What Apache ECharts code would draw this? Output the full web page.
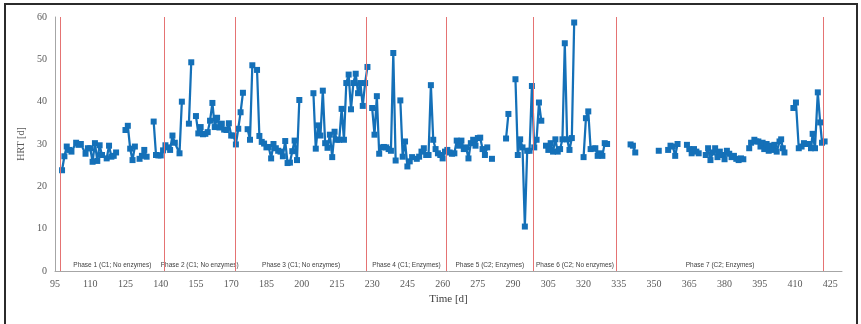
<!DOCTYPE html>
<html>
<head>
<meta charset="utf-8">
<script src="https://cdn.jsdelivr.net/npm/echarts@6/dist/echarts.min.js"></script>
<style>
  html, body { margin: 0; padding: 0; background: #fff; }
  #wrap { position: relative; width: 861px; height: 324px; overflow: hidden; }
  #chart { width: 861px; height: 324px; }
  #frame { position: absolute; left: 4px; top: 3px; width: 850px; height: 330px; border: 2px solid #2b2b2b; pointer-events: none; }
</style>
</head>
<body>
<div id="wrap">
  <div id="chart"></div>
  <div id="frame"></div>
</div>
<script>
// time [d]; a null HRT value marks a gap in the record
const days = [
  98, 99, 100, 101, 102, 104, 105, 106, 108, 109, 110, 111, 112, 113, 114, 115, 117, 118, 119, 120, 121, 122,
  125, 126, 127, 128, 129, 130, 131, 132, 133, 134, 135,
  137, 138, 139, 140, 141, 142, 143, 144, 145, 146, 148, 149, 150,
  152, 153, 154,
  155, 156, 157, 158, 159, 160, 161, 162, 163, 164, 165, 166, 167, 168, 169, 170, 171, 172, 173, 174, 175, 176,
  177, 178, 179, 180,
  181, 182, 183, 184, 185, 186, 187, 188, 189, 190, 191, 192, 193, 194, 195, 196, 197, 198, 199, 200,
  205, 206, 207, 208, 209, 210, 211, 212, 213, 214, 215, 216, 217, 218, 219, 220, 221, 222, 223, 224, 225, 226, 227, 228, 229,
  230, 231, 232, 233, 234, 235, 236, 237, 238, 239, 240, 241,
  242, 243, 244, 245, 246, 247, 248,
  249, 250, 251, 252, 253, 254, 255, 256, 257, 258, 259, 260, 261, 262, 263, 264, 265, 266, 267, 268, 269, 270,
  271, 272, 273, 274, 275, 276, 277, 278, 279, 280,
  281, 282,
  287, 288, 289,
  291, 292, 293, 294, 295, 296, 297, 298, 299, 300, 301, 302, 303,
  304, 305, 306, 307, 308, 309, 310, 311, 312, 313, 314, 315, 316, 317,
  320, 321, 322, 323, 324, 325, 326, 327, 328, 329, 330, 331,
  340, 341, 342, 343,
  352, 353,
  356, 357, 358, 359, 360, 362,
  364, 365, 366, 367, 368, 369, 370,
  372, 373, 374, 375, 376, 377, 378, 379, 380, 381, 382, 383, 384, 385, 386, 387, 388, 389,
  390.5, 391.3, 392.7, 393.4, 394.4, 395.3, 396.2, 396.9, 397.9, 398.8, 399.5, 400.5, 401.2, 402.2, 403.4, 404.1, 404.8, 405.5, 407,
  409.3, 410.4, 411.6, 412.8, 413.8, 415.1, 416.1, 416.8, 417.5, 418.5, 419.7, 420.7, 421.5, 422.6
];
const hrt = [
  23.8, 27.1, 29.4, 28.6, 28.2, 30.3, 29.8, 30.0, 27.7, 29.0, 29.0, 25.8, 30.2, 26.0, 29.7, 27.4, 26.6, 29.6, 27.0, 27.2, 28.0, null,
  33.3, 34.3, 28.9, 26.2, 29.4, null, 26.5, 27.2, 28.6, 27.0, null,
  35.3, 27.4, 27.3, 27.3, 28.5, 29.7, 29.2, 28.6, 32.0, 30.3, 27.8, 40.0, null,
  34.8, 49.3, null,
  36.6, 32.5, 34.0, 32.3, 32.4, 32.8, 35.5, 39.7, 34.0, 36.2, 33.9, 34.8, 33.4, 33.3, 34.9, 32.0, 32.0, 29.9, 33.6, 37.5, 42.1, null,
  33.5, 31.0, 48.6, null,
  47.5, 31.9, 30.5, 30.1, 29.2, 29.3, 26.6, 30.0, 29.0, 28.4, 28.2, 27.1, 30.7, 25.5, 25.6, 28.3, 30.8, 26.2, 40.4, null,
  42.0, 28.9, 34.4, 32.0, 42.6, 30.2, 29.1, 32.2, 26.9, 32.9, 31.0, 31.0, 38.3, 31.0, 44.4, 46.4, 38.2, 44.4, 46.6, 42.0, 44.4, 39.0, 44.4, 48.2, null,
  38.5, 32.2, 41.3, 27.7, 29.2, 29.3, 29.2, 28.8, 28.4, 51.5, 26.1, null,
  40.3, 27.0, 30.6, 24.7, 25.9, 26.9, null,
  26.5, 27.0, 28.2, 29.0, 27.4, 27.4, 43.9, 31.0, 28.8, 27.8, 27.4, 26.6, 28.2, 28.6, 28.0, 27.7, 27.8, 30.8, 29.6, 30.8, 28.8, 29.2,
  26.6, 30.2, 31.0, 29.6, 31.4, 31.5, 28.8, 27.4, 29.2, null,
  26.5, null,
  31.3, 37.1, null,
  45.3, 27.4, 31.1, 29.2, 10.5, 28.4, 28.4, 43.7, 29.2, 31.0, 39.8, 35.5, null,
  29.6, 28.6, 30.2, 28.2, 31.1, 28.2, 28.8, 31.1, 53.8, 31.1, 28.6, 31.4, 58.7, null,
  26.9, 36.1, 37.7, 28.8, 28.9, 29.0, 27.2, 27.8, 27.2, 30.2, 30.0, null,
  29.9, 29.6, 28.0, null,
  28.4, null,
  28.6, 29.6, 29.4, 27.2, 30.0, null,
  29.8, 28.8, 27.8, 28.8, 28.2, 27.8, null,
  27.4, 29.0, 26.2, 28.0, 29.0, 26.9, 28.2, 27.4, 26.4, 28.4, 27.7, 26.9, 27.2, 26.5, 26.2, 26.6, 26.4, null,
  29.0, 30.3, 31.0, 30.6, 30.6, 29.4, 30.3, 28.8, 30.0, 28.4, 29.6, 28.6, 29.8, 28.2, 30.6, 31.1, 29.0, 28.0, null,
  38.5, 39.8, 29.0, 29.4, 30.2, 30.0, 30.0, 29.0, 32.4, 29.0, 42.2, 35.1, 30.3, 30.6
];
const xTicks = [95, 110, 125, 140, 155, 170, 185, 200, 215, 230, 245, 260, 275, 290, 305, 320, 335, 350, 365, 380, 395, 410, 425];
const phaseBounds = [97.4, 141.4, 171.8, 227.7, 261.5, 298.7, 334, 422.2];
const phaseNames = [
  'Phase 1 (C1; No enzymes)',
  'Phase 2 (C1; No enzymes)',
  'Phase 3 (C1; No enzymes)',
  'Phase 4 (C1; Enzymes)',
  'Phase 5 (C2; Enzymes)',
  'Phase 6 (C2; No enzymes)',
  'Phase 7 (C2; Enzymes)'
];

const points = days.map((d, i) => [d, hrt[i]]);
const areas = phaseNames.map((name, i) => [
  { name: name, xAxis: phaseBounds[i] },
  { xAxis: phaseBounds[i + 1] }
]);

const myChart = echarts.init(document.getElementById('chart'));
const tickFont = { color: '#595959', fontFamily: 'Liberation Serif', fontSize: 10 };

myChart.setOption({
  animation: false,
  grid: { left: 55, right: 19, top: 17, bottom: 53 },
  xAxis: {
    type: 'value',
    min: 95,
    max: 430,
    name: 'Time [d]',
    nameLocation: 'middle',
    nameGap: 21,
    nameTextStyle: { color: '#404040', fontFamily: 'Liberation Serif', fontSize: 11 },
    axisLine: { lineStyle: { color: '#a6a6a6', width: 1 } },
    axisTick: { show: false },
    splitLine: { show: false },
    axisLabel: Object.assign({ customValues: xTicks, margin: 8 }, tickFont)
  },
  yAxis: {
    type: 'value',
    min: 0,
    max: 60,
    interval: 10,
    name: 'HRT [d]',
    nameLocation: 'middle',
    nameGap: 25,
    nameTextStyle: { color: '#595959', fontFamily: 'Liberation Serif', fontSize: 10 },
    axisLine: { show: true, lineStyle: { color: '#a6a6a6', width: 1 } },
    axisTick: { show: false },
    splitLine: { show: false },
    axisLabel: Object.assign({ margin: 8 }, tickFont)
  },
  series: [{
    type: 'line',
    data: points,
    connectNulls: false,
    showAllSymbol: true,
    symbol: 'rect',
    symbolSize: 6,
    lineStyle: { color: '#1470b8', width: 2.25 },
    itemStyle: { color: '#1470b8' },
    markLine: {
      silent: true,
      symbol: ['none', 'none'],
      label: { show: false },
      lineStyle: { color: '#e57373', width: 1, type: 'solid' },
      data: phaseBounds.map(b => ({ xAxis: b }))
    },
    markArea: {
      silent: true,
      itemStyle: { color: 'rgba(0,0,0,0)' },
      label: {
        show: true,
        position: 'insideBottom',
        distance: 2,
        color: '#404040',
        fontFamily: 'Liberation Sans',
        fontSize: 6.5
      },
      data: areas
    }
  }]
});
</script>
</body>
</html>
